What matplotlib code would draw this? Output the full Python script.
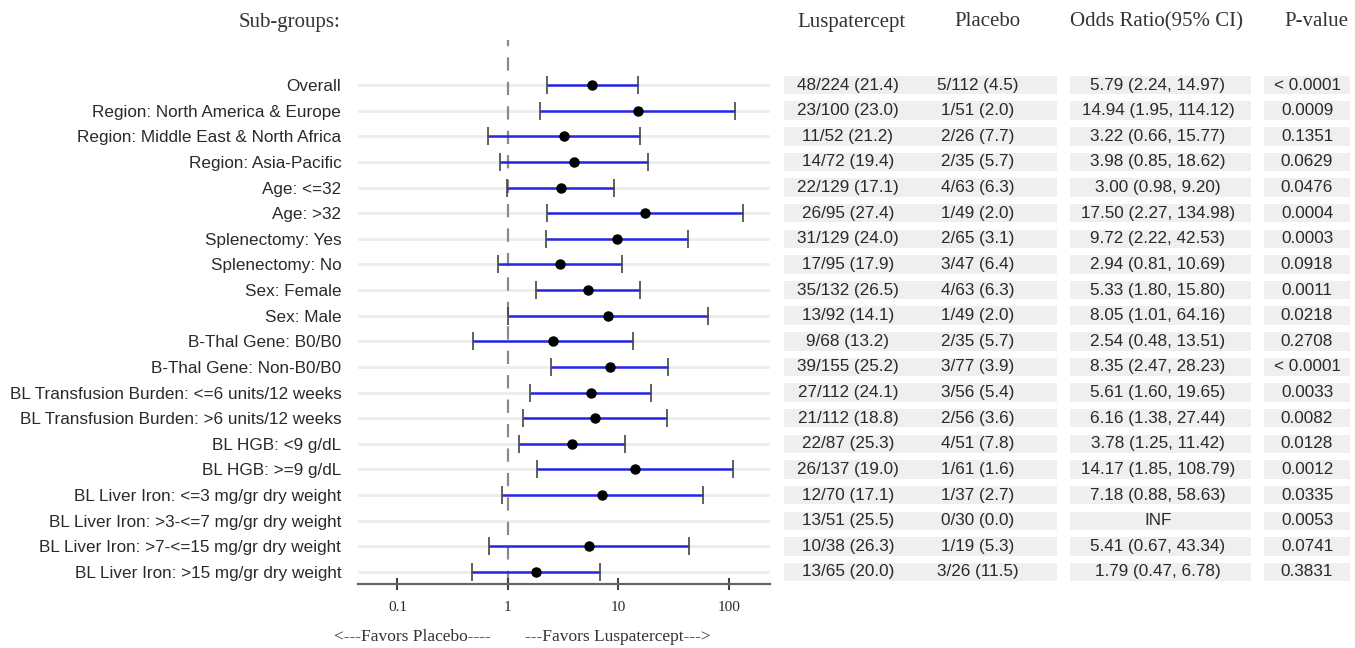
import numpy as np
import matplotlib
matplotlib.use("Agg")
import matplotlib.pyplot as plt
from matplotlib.patches import Rectangle

# data
subgroups = [
    "Overall",
    "Region: North America & Europe",
    "Region: Middle East & North Africa",
    "Region: Asia-Pacific",
    "Age: <=32",
    "Age: >32",
    "Splenectomy: Yes",
    "Splenectomy: No",
    "Sex: Female",
    "Sex: Male",
    "B-Thal Gene: B0/B0",
    "B-Thal Gene: Non-B0/B0",
    "BL Transfusion Burden: <=6 units/12 weeks",
    "BL Transfusion Burden: >6 units/12 weeks",
    "BL HGB: <9 g/dL",
    "BL HGB: >=9 g/dL",
    "BL Liver Iron: <=3 mg/gr dry weight",
    "BL Liver Iron: >3-<=7 mg/gr dry weight",
    "BL Liver Iron: >7-<=15 mg/gr dry weight",
    "BL Liver Iron: >15 mg/gr dry weight",
]
odds = [5.79, 14.94, 3.22, 3.98, 3.00, 17.50, 9.72, 2.94, 5.33, 8.05,
        2.54, 8.35, 5.61, 6.16, 3.78, 14.17, 7.18, np.nan, 5.41, 1.79]
ci_low = [2.24, 1.95, 0.66, 0.85, 0.98, 2.27, 2.22, 0.81, 1.80, 1.01,
          0.48, 2.47, 1.60, 1.38, 1.25, 1.85, 0.88, np.nan, 0.67, 0.47]
ci_high = [14.97, 114.12, 15.77, 18.62, 9.20, 134.98, 42.53, 10.69, 15.80, 64.16,
           13.51, 28.23, 19.65, 27.44, 11.42, 108.79, 58.63, np.nan, 43.34, 6.78]
lusp = ["48/224 (21.4)", "23/100 (23.0)", "11/52 (21.2)", "14/72 (19.4)", "22/129 (17.1)",
        "26/95 (27.4)", "31/129 (24.0)", "17/95 (17.9)", "35/132 (26.5)", "13/92 (14.1)",
        "9/68 (13.2)", "39/155 (25.2)", "27/112 (24.1)", "21/112 (18.8)", "22/87 (25.3)",
        "26/137 (19.0)", "12/70 (17.1)", "13/51 (25.5)", "10/38 (26.3)", "13/65 (20.0)"]
placebo = ["5/112 (4.5)", "1/51 (2.0)", "2/26 (7.7)", "2/35 (5.7)", "4/63 (6.3)",
           "1/49 (2.0)", "2/65 (3.1)", "3/47 (6.4)", "4/63 (6.3)", "1/49 (2.0)",
           "2/35 (5.7)", "3/77 (3.9)", "3/56 (5.4)", "2/56 (3.6)", "4/51 (7.8)",
           "1/61 (1.6)", "1/37 (2.7)", "0/30 (0.0)", "1/19 (5.3)", "3/26 (11.5)"]
or_text = ["5.79 (2.24, 14.97)", "14.94 (1.95, 114.12)", "3.22 (0.66, 15.77)",
           "3.98 (0.85, 18.62)", "3.00 (0.98, 9.20)", "17.50 (2.27, 134.98)",
           "9.72 (2.22, 42.53)", "2.94 (0.81, 10.69)", "5.33 (1.80, 15.80)",
           "8.05 (1.01, 64.16)", "2.54 (0.48, 13.51)", "8.35 (2.47, 28.23)",
           "5.61 (1.60, 19.65)", "6.16 (1.38, 27.44)", "3.78 (1.25, 11.42)",
           "14.17 (1.85, 108.79)", "7.18 (0.88, 58.63)", "INF",
           "5.41 (0.67, 43.34)", "1.79 (0.47, 6.78)"]
pvals = ["< 0.0001", "0.0009", "0.1351", "0.0629", "0.0476", "0.0004", "0.0003",
         "0.0918", "0.0011", "0.0218", "0.2708", "< 0.0001", "0.0033", "0.0082",
         "0.0128", "0.0012", "0.0335", "0.0053", "0.0741", "0.3831"]
headers = ["Luspatercept", "Placebo", "Odds Ratio(95% CI)", "P-value"]
xticks = [0.1, 1, 10, 100]
xtick_labels = ["0.1", "1", "10", "100"]

W, H = 1355, 648
fig = plt.figure(figsize=(W / 100, H / 100), dpi=100)

sans = "Liberation Sans"
serif = "Liberation Serif"
txt_col = "#2a2a2a"

n = len(subgroups)
y = np.arange(n)
row_h = 25.6  # px between rows
top_px, bot_px = 40, 584
y_top = -(85 - top_px) / row_h
y_bot = (n - 1) + (bot_px - 572) / row_h

def px_rect(x0, x1):
    return [x0 / W, 1 - bot_px / H, (x1 - x0) / W, (bot_px - top_px) / H]

ax = fig.add_axes(px_rect(358, 770))
ax.set_xscale("log")
ax.set_xlim(0.044, 236)
ax.set_ylim(y_bot, y_top)

for yy in y:
    ax.axhline(yy, color="#ececec", lw=2, zorder=0)
ax.axvline(1, color="#8a8a8a", lw=1.6, ls=(0, (6, 5)), zorder=1)

odds_a = np.array(odds)
lo = np.array(ci_low)
hi = np.array(ci_high)
ok = ~np.isnan(odds_a)
ax.hlines(y[ok], lo[ok], hi[ok], color="#2626e8", lw=1.8, zorder=2)
ax.plot(lo[ok], y[ok], "|", ms=13, mew=1.2, color="#444444", zorder=3)
ax.plot(hi[ok], y[ok], "|", ms=13, mew=1.2, color="#444444", zorder=3)
ax.plot(odds_a[ok], y[ok], "o", ms=6.5, color="black", zorder=4)

ax.set_yticks(y)
ax.set_yticklabels(subgroups, fontsize=12.3, family=sans, color=txt_col)
ax.tick_params(axis="y", length=0, pad=12)
ax.set_xticks(xticks)
ax.set_xticklabels(xtick_labels, family=serif, fontsize=11, color=txt_col)
ax.minorticks_off()
ax.tick_params(axis="x", direction="inout", length=9, width=1.5, color="#444444", pad=8)
for s in ["top", "left", "right"]:
    ax.spines[s].set_visible(False)
ax.spines["bottom"].set_color("#666666")
ax.spines["bottom"].set_linewidth(1.6)

fig.text(340 / W, 1 - 22 / H, "Sub-groups:", family=serif, fontsize=15,
         ha="right", va="center", color="#333333")
fig.text(412 / W, 1 - 637 / H, "<---Favors Placebo----", family=serif, fontsize=12.5,
         ha="center", va="center", color="#333333")
fig.text(618 / W, 1 - 637 / H, "---Favors Luspatercept--->", family=serif, fontsize=12.5,
         ha="center", va="center", color="#333333")

# table on the right, same rows as the plot
tab = fig.add_axes(px_rect(770, W))
tab.set_xlim(770, W)
tab.set_ylim(y_bot, y_top)
tab.axis("off")

blocks = [(784, 1057), (1070, 1251), (1264, 1350)]
col_x = [848, 978, 1158, 1307]
head_x = [851, 987, 1156, 1316]
band = 0.72
for yy in y:
    for x0, x1 in blocks:
        tab.add_patch(Rectangle((x0, yy - band / 2), x1 - x0, band,
                                facecolor="#efefef", edgecolor="none", zorder=0))
columns = [lusp, placebo, or_text, pvals]
for cx, col in zip(col_x, columns):
    for yy, txt in zip(y, col):
        tab.text(cx, yy, txt, ha="center", va="center", family=sans,
                 fontsize=12.3, color=txt_col)

for hx, h in zip(head_x, headers):
    fig.text(hx / W, 1 - 22 / H, h, family=serif, fontsize=15,
             ha="center", va="center", color="#333333")

fig.savefig("out.png", dpi=100)
